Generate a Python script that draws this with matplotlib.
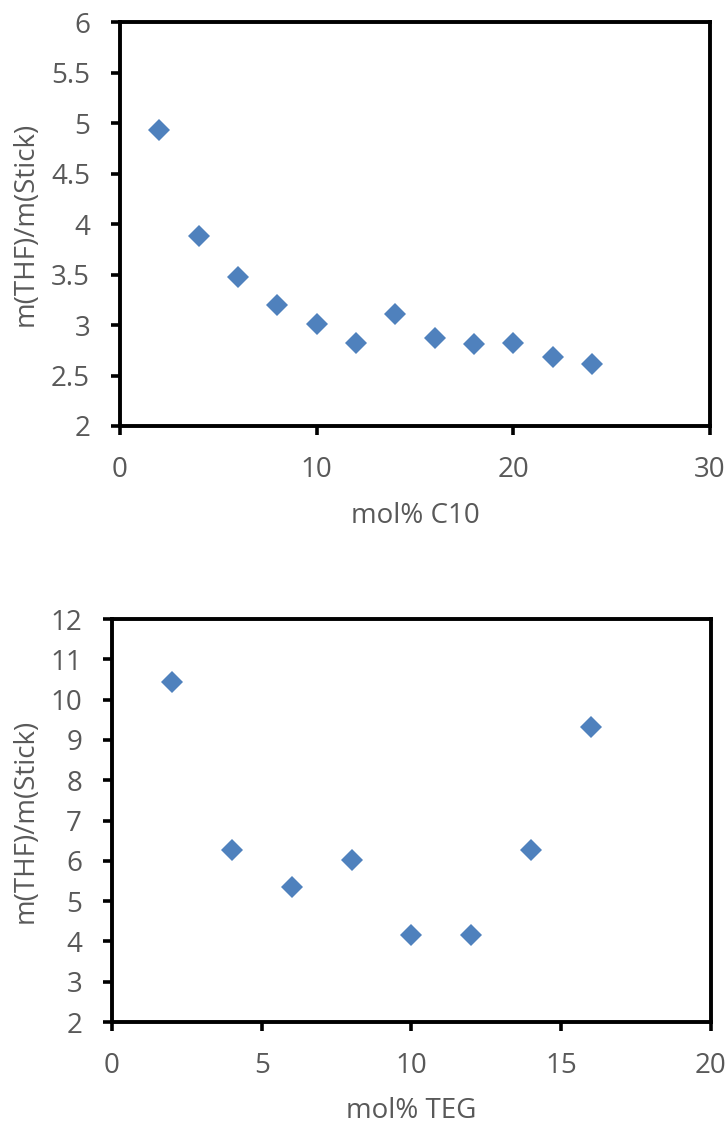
import matplotlib
matplotlib.use("Agg")
import matplotlib.pyplot as plt
import matplotlib.transforms as mtransforms

# top panel: C10 series
c10_mol = [2, 4, 6, 8, 10, 12, 14, 16, 18, 20, 22, 24]
c10_ratio = [4.93, 3.88, 3.48, 3.20, 3.01, 2.82, 3.11, 2.87, 2.81, 2.82, 2.68, 2.61]

# bottom panel: TEG series
teg_mol = [2, 4, 6, 8, 10, 12, 14, 16]
teg_ratio = [10.44, 6.26, 5.36, 6.03, 4.17, 4.15, 6.26, 9.32]

plt.rcParams['font.family'] = ['Open Sans', 'DejaVu Sans']

marker_color = '#4F81BD'
text_color = '#595959'

fig = plt.figure(figsize=(7.28, 11.24), dpi=100)
ax1 = fig.add_axes([0.1648, 0.6210, 0.8104, 0.3594])
ax2 = fig.add_axes([0.1538, 0.0907, 0.8228, 0.3585])


def style_axes(ax, xlabel, xlabel_top_px):
    for side in ['left', 'right', 'top', 'bottom']:
        ax.spines[side].set_linewidth(2.8)
        ax.spines[side].set_color('black')
    ax.tick_params(direction='out', length=6.5, width=2.6, color='black',
                   labelsize=20, labelcolor=text_color, pad=15)
    ax.set_xlabel(xlabel, fontsize=20, color=text_color)
    ax.set_ylabel("m(THF)/m(Stick)", fontsize=20, color=text_color)
    # place axis titles where the reference has them
    ax.xaxis.set_label_coords(
        0.5, 1 - xlabel_top_px / 1124,
        transform=mtransforms.blended_transform_factory(ax.transAxes, fig.transFigure))
    ax.yaxis.set_label_coords(
        40 / 728, 0.5,
        transform=mtransforms.blended_transform_factory(fig.transFigure, ax.transAxes))


ax1.plot(c10_mol, c10_ratio, linestyle='none', marker='D', markersize=11.3,
         color=marker_color, markeredgewidth=0)
ax1.set_xlim(0, 30)
ax1.set_ylim(2, 6)
ax1.set_xticks([0, 10, 20, 30])
ax1.set_yticks([2, 2.5, 3, 3.5, 4, 4.5, 5, 5.5, 6])
ax1.set_yticklabels(['2', '2.5', '3', '3.5', '4', '4.5', '5', '5.5', '6'])
style_axes(ax1, "mol% C10", 502)

ax2.plot(teg_mol, teg_ratio, linestyle='none', marker='D', markersize=11.3,
         color=marker_color, markeredgewidth=0)
ax2.set_xlim(0, 20)
ax2.set_ylim(2, 12)
ax2.set_xticks([0, 5, 10, 15, 20])
ax2.set_yticks(range(2, 13))
style_axes(ax2, "mol% TEG", 1097)

fig.savefig("out.png", dpi=100)
